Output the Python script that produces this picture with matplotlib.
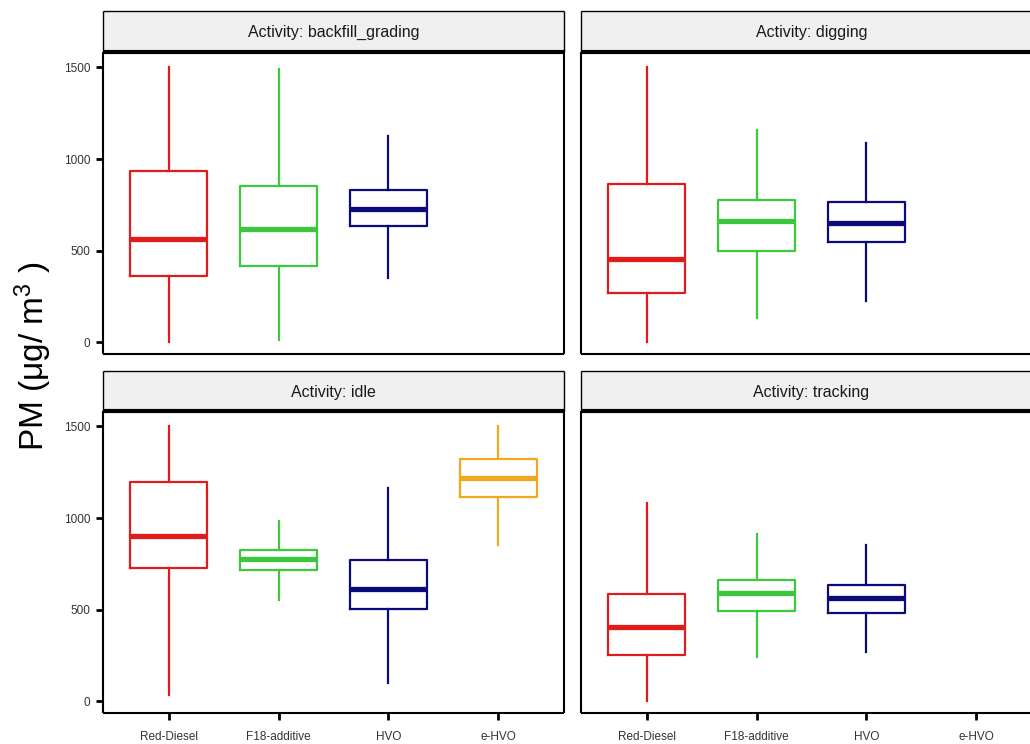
import matplotlib
matplotlib.use('Agg')
import matplotlib.pyplot as plt

plt.rcParams['font.family'] = ['Liberation Sans', 'DejaVu Sans']
plt.rcParams['mathtext.default'] = 'regular'

# categories on the x axis and their colours
fuels = ['Red-Diesel', 'F18-additive', 'HVO', 'e-HVO']
fuel_colors = ['#E01B1B', '#3CC83C', '#0A0A7A', '#F0A81E']

# five-number summaries per fuel: [whisker low, q1, median, q3, whisker high]
backfill_grading = [[0, 365, 565, 933, 1500],
                    [16, 416, 618, 851, 1490],
                    [353, 636, 729, 833, 1124],
                    None]
digging = [[0, 271, 456, 862, 1500],
           [135, 496, 660, 778, 1156],
           [225, 547, 651, 765, 1087],
           None]
idle = [[33, 727, 905, 1198, 1500],
        [555, 716, 775, 824, 984],
        [98, 502, 615, 771, 1164],
        [853, 1115, 1220, 1324, 1500]]
tracking = [[4, 256, 407, 587, 1080],
            [242, 491, 591, 665, 915],
            [269, 484, 565, 633, 855],
            None]

activities = ['backfill_grading', 'digging', 'idle', 'tracking']
summaries = [backfill_grading, digging, idle, tracking]
y_ticks = [0, 500, 1000, 1500]

W, H = 1030, 744
fig = plt.figure(figsize=(W / 100, H / 100), dpi=100)


def axes_px(x0, y0, x1, y1):
    """axes from pixel box (top-left origin)"""
    return fig.add_axes([x0 / W, 1 - y1 / H, (x1 - x0) / W, (y1 - y0) / H])


panel_boxes = [(103, 52, 564, 354), (581, 52, 1042, 354),
               (103, 411, 564, 713), (581, 411, 1042, 713)]
strip_boxes = [(103, 11, 564, 52), (581, 11, 1042, 52),
               (103, 371, 564, 411), (581, 371, 1042, 411)]

for i, (act, summ) in enumerate(zip(activities, summaries)):
    ax = axes_px(*panel_boxes[i])
    for j, s in enumerate(summ):
        if s is None:
            continue
        stats = [{'whislo': s[0], 'q1': s[1], 'med': s[2], 'q3': s[3],
                  'whishi': s[4], 'fliers': []}]
        c = fuel_colors[j]
        ax.bxp(stats, positions=[j + 1], widths=0.7, showfliers=False,
               showcaps=False,
               boxprops=dict(color=c, linewidth=1.6),
               whiskerprops=dict(color=c, linewidth=1.6),
               medianprops=dict(color=c, linewidth=3.8, solid_capstyle='butt'))
    ax.set_xlim(0.4, 4.6)
    ax.set_ylim(-63, 1584)
    for sp in ax.spines.values():
        sp.set_linewidth(1.5)
        sp.set_color('black')
        sp.set_capstyle('butt')
    ax.set_yticks(y_ticks)
    ax.set_xticks(range(1, len(fuels) + 1))
    ax.set_xticklabels(fuels)
    ax.tick_params(axis='both', length=5, width=2, color='black',
                   labelsize=8.5, labelcolor='#333333', pad=4)
    ax.tick_params(axis='x', pad=8)
    if i % 2 == 1:
        ax.tick_params(axis='y', left=False, labelleft=False)
    if i < 2:
        ax.tick_params(axis='x', bottom=False, labelbottom=False)

    sx = axes_px(*strip_boxes[i])
    sx.set_facecolor('#F0F0F0')
    sx.set_xticks([])
    sx.set_yticks([])
    for sp in sx.spines.values():
        sp.set_linewidth(1.0)
        sp.set_color('black')
        sp.set_capstyle('butt')
    sx.spines['bottom'].set_linewidth(3)
    sx.text(0.5, 0.47, f'Activity: {act}', transform=sx.transAxes,
            ha='center', va='center', fontsize=11.5, color='#1A1A1A')

fig.text(33 / W, 1 - 356 / H, r'PM (μg/ m$^{3}$ )', rotation=90,
         ha='center', va='center', fontsize=24)

fig.savefig('out.png', dpi=100)
